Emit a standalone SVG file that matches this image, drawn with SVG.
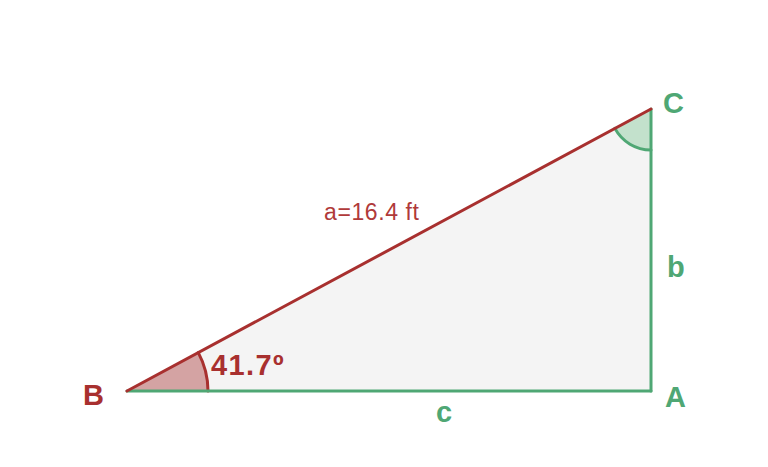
<svg xmlns="http://www.w3.org/2000/svg" width="768" height="467" viewBox="0 0 768 467">
<style>
.red{stroke:#a8302f;stroke-width:3;fill:none;stroke-linecap:round}
.grn{stroke:#4fa774;stroke-width:3;fill:none;stroke-linecap:round}
.lbl{font-family:"Liberation Sans",Arial,sans-serif;font-weight:bold;font-size:29px}
.rt{fill:#a8302f}
.gt{fill:#4fa774}
</style>
<rect width="768" height="467" fill="#ffffff"/>
<g id="triangle">
<polygon points="127,391 651,391 651,109" fill="#f4f4f4"/>
</g>
<g id="angleB">
<path d="M127,391 L208,391 A81,81 0 0,0 198.3,352.6 Z" fill="#d4a3a3"/>
<path d="M208,391 A81,81 0 0,0 198.3,352.6" class="red" stroke-width="2"/>
</g>
<g id="angleC">
<path d="M651,109 L651,150 A41,41 0 0,1 614.9,128.4 Z" fill="#c3e1cc"/>
<path d="M651,150 A41,41 0 0,1 614.9,128.4" class="grn" stroke-width="2"/>
</g>
<g id="connectors">
<line x1="127" y1="391" x2="651" y2="391" class="grn"/>
<line x1="651" y1="391" x2="651" y2="109" class="grn"/>
<line x1="127" y1="391" x2="651" y2="109" class="red"/>
</g>
<g id="nodeB"><text x="83" y="405" class="lbl rt">B</text></g>
<g id="nodeA"><text x="665" y="407" class="lbl gt">A</text></g>
<g id="nodeC"><text x="663" y="113" class="lbl gt">C</text></g>
<g id="labels">
<text x="667" y="277" class="lbl gt">b</text>
<text x="436" y="422" class="lbl gt">c</text>
<text x="324" y="220" font-family="Liberation Sans,Arial,sans-serif" font-size="23" letter-spacing="0.6" fill="#b03a3a">a=16.4 ft</text>
<text x="211" y="375" class="lbl rt" letter-spacing="1.4">41.7º</text>
</g>
</svg>
